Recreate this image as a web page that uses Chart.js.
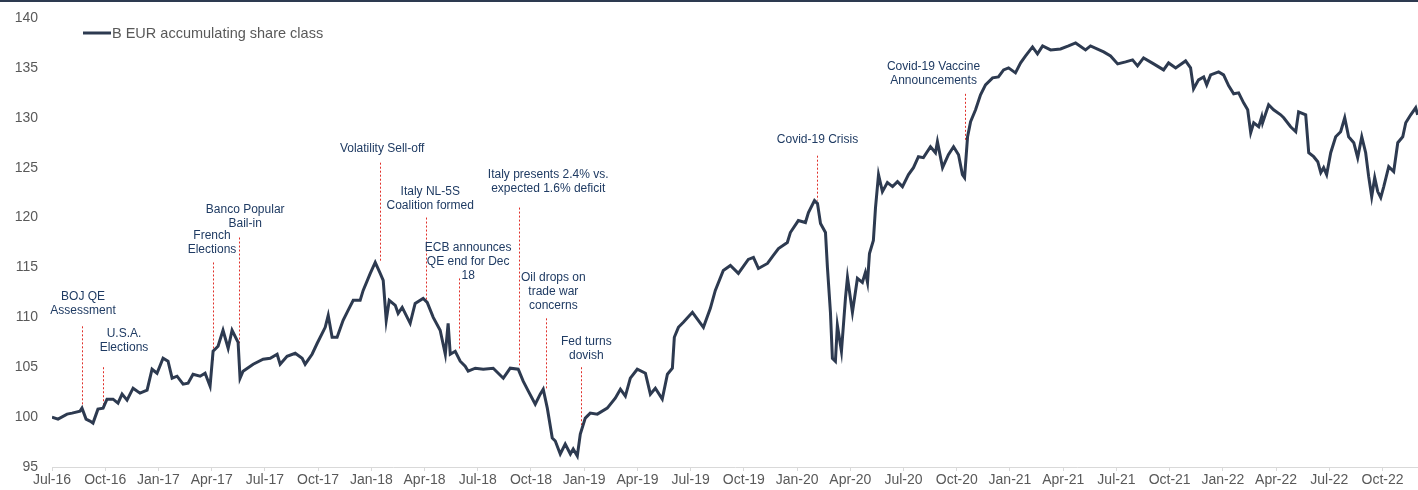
<!DOCTYPE html>
<html>
<head>
<meta charset="utf-8">
<script src="https://cdn.jsdelivr.net/npm/chart.js@4.4.1/dist/chart.umd.min.js"></script>
<style>
  html, body { margin: 0; padding: 0; background: #fff; }
  #caixa { width: 1418px; height: 490px; position: relative; }
</style>
</head>
<body>
<div id="caixa"><canvas id="grafico"></canvas></div>
<script>
// months since Jul-16 (x) and fund value (y)
const meses = [0,0.34,0.85,1.13,1.58,1.69,1.92,2.14,2.31,2.59,2.88,3.10,3.44,3.72,3.95,4.23,4.57,4.96,5.36,5.64,
  5.92,6.26,6.54,6.77,7.05,7.39,7.67,7.95,8.35,8.63,8.91,9.08,9.36,9.64,9.93,10.15,10.49,10.60,10.77,11.34,
  11.90,12.30,12.69,12.86,13.25,13.71,14.10,14.27,14.66,14.95,15.40,15.57,15.79,16.07,16.41,16.69,16.98,17.37,17.54,17.94,
  18.22,18.50,18.67,18.84,19.01,19.35,19.51,19.74,20.19,20.47,20.92,21.15,21.49,21.88,22.17,22.33,22.45,22.73,23.01,23.29,
  23.46,23.86,24.31,24.87,25.44,25.83,26.28,26.56,26.85,27.24,27.52,27.69,27.92,28.20,28.37,28.65,28.93,29.22,29.38,29.61,
  29.78,30.06,30.34,30.74,31.30,31.75,32.04,32.32,32.60,32.99,33.45,33.73,34.01,34.40,34.69,34.97,35.08,35.31,35.59,36.10,
  36.72,37.11,37.39,37.84,38.24,38.69,39.25,39.54,39.82,40.33,40.66,40.95,41.45,41.62,42.07,42.47,42.64,42.98,43.15,43.32,
  43.60,43.71,43.88,43.99,44.16,44.27,44.50,44.73,44.84,45.12,45.40,45.68,45.85,45.97,46.08,46.30,46.42,46.59,46.81,47.09,
  47.38,47.66,47.94,48.28,48.56,48.84,49.12,49.52,49.80,49.91,50.20,50.53,50.82,51.10,51.32,51.44,51.61,51.78,52.06,52.34,
  52.62,53.02,53.35,53.64,53.92,54.31,54.60,54.88,55.27,55.55,55.84,56.29,56.85,57.30,57.70,58.26,58.54,59.28,59.67,60.07,
  60.52,60.91,61.19,61.53,62.10,62.66,62.94,63.34,63.90,64.18,64.35,64.63,64.92,65.09,65.31,65.76,66.04,66.33,66.61,66.89,
  67.17,67.40,67.57,67.74,68.02,68.19,68.24,68.58,68.86,69.26,69.43,69.82,70.11,70.27,70.67,70.84,71.12,71.35,71.52,71.68,
  71.85,72.08,72.36,72.64,72.87,73.09,73.38,73.60,73.83,74.05,74.22,74.39,74.56,74.73,74.90,75.07,75.35,75.63,75.86,76.14,
  76.31,76.59,76.87,76.98];

const valores = [100.0,99.8,100.3,100.4,100.6,100.9,99.8,99.6,99.4,100.8,100.9,101.8,101.8,101.4,102.3,101.7,102.9,102.4,102.7,104.8,
  104.4,105.9,105.6,103.9,104.1,103.3,103.4,104.3,104.1,104.4,103.1,106.6,107.1,108.7,106.9,108.7,107.5,103.9,104.6,105.3,
  105.8,105.9,106.3,105.3,106.1,106.4,105.9,105.3,106.3,107.4,109.0,110.2,108.0,108.0,109.7,110.7,111.7,111.7,112.7,114.4,
  115.5,114.4,113.7,109.7,111.7,111.2,110.4,111.0,109.4,111.4,111.9,111.5,110.0,108.7,106.3,109.4,106.3,106.6,105.6,105.1,
  104.6,104.9,104.8,104.9,103.9,104.9,104.8,103.6,102.6,101.3,102.3,102.8,100.9,97.9,97.6,96.3,97.3,96.3,96.8,96.1,
  98.3,99.9,100.4,100.3,100.9,101.9,102.8,102.1,103.9,104.8,104.4,102.3,102.9,101.8,104.3,104.9,108.0,109.0,109.5,110.5,
  109.0,110.9,112.7,114.7,115.2,114.4,115.8,116.0,114.9,115.4,116.2,116.9,117.5,118.5,119.7,119.5,120.5,121.7,121.4,119.4,
  118.5,115.0,110.5,105.9,105.6,109.2,106.6,112.0,114.0,110.5,113.9,113.5,114.5,113.5,116.4,117.7,121.0,124.3,122.6,123.5,
  123.1,123.6,123.1,124.3,125.0,126.1,126.0,127.1,126.5,127.6,125.0,126.3,127.1,126.3,124.3,124.0,128.1,129.6,130.8,132.3,
  133.3,134.0,134.1,134.8,135.0,134.5,135.5,136.2,137.1,136.4,137.2,136.8,136.9,137.2,137.5,136.8,137.2,136.6,136.2,135.4,
  135.6,135.8,135.2,136.0,135.4,134.8,135.5,135.0,135.7,135.0,132.9,133.8,134.1,133.3,134.3,134.6,134.3,133.2,132.4,132.5,
  131.5,130.8,128.5,129.5,129.1,130.1,129.5,131.3,130.8,130.3,130.0,129.1,128.6,130.6,130.3,126.5,126.1,125.6,124.5,125.0,
  124.3,126.5,128.1,128.6,130.0,128.1,127.5,126.0,128.1,126.5,124.1,122.1,124.0,122.6,122.0,123.1,125.1,124.6,127.5,128.1,
  129.5,130.3,131.0,130.3];

const rotulosX = ['Jul-16','Oct-16','Jan-17','Apr-17','Jul-17','Oct-17','Jan-18','Apr-18','Jul-18','Oct-18',
  'Jan-19','Apr-19','Jul-19','Oct-19','Jan-20','Apr-20','Jul-20','Oct-20','Jan-21','Apr-21',
  'Jul-21','Oct-21','Jan-22','Apr-22','Jul-22','Oct-22'];

const nomeSerie = 'B EUR accumulating share class';

// event notes: text anchor (month, value) and the dotted marker (month, from value, to value)
const eventos = [
  { texto: ['BOJ QE', 'Assessment'], x: 1.75, y: 112.1, linhaX: 1.69, de: 109.1, ate: 101.0 },
  { texto: ['U.S.A.', 'Elections'], x: 4.06, y: 108.4, linhaX: 2.88, de: 105.0, ate: 101.1 },
  { texto: ['French', 'Elections'], x: 9.02, y: 118.2, linhaX: 9.08, de: 115.5, ate: 105.7 },
  { texto: ['Banco Popular', 'Bail-in'], x: 10.89, y: 120.8, linhaX: 10.55, de: 118.0, ate: 107.4 },
  { texto: ['Volatility Sell-off'], x: 18.61, y: 126.9, linhaX: 18.50, de: 125.5, ate: 115.5 },
  { texto: ['Italy NL-5S', 'Coalition formed'], x: 21.32, y: 122.6, linhaX: 21.09, de: 120.0, ate: 111.7 },
  { texto: ['ECB announces', 'QE end for Dec', '18'], x: 23.46, y: 117.0, linhaX: 22.95, de: 113.9, ate: 106.7 },
  { texto: ['Italy presents 2.4% vs.', 'expected 1.6% deficit'], x: 27.97, y: 124.3, linhaX: 26.34, de: 121.0, ate: 105.2 },
  { texto: ['Oil drops on', 'trade war', 'concerns'], x: 28.26, y: 114.0, linhaX: 27.86, de: 109.9, ate: 102.7 },
  { texto: ['Fed turns', 'dovish'], x: 30.12, y: 107.6, linhaX: 29.84, de: 105.0, ate: 99.2 },
  { texto: ['Covid-19 Crisis'], x: 43.15, y: 127.8, linhaX: 43.15, de: 126.2, ate: 121.7 },
  { texto: ['Covid-19 Vaccine', 'Announcements'], x: 49.69, y: 135.1, linhaX: 51.49, de: 132.4, ate: 127.7 }
];

const corLinha = '#2D3A50';
const corTexto = '#595959';
const fonte = '"Liberation Sans", Arial, sans-serif';

const anotacoes = {
  id: 'anotacoes',
  beforeDatasetsDraw(chart) {
    const { ctx, scales: { x, y } } = chart;
    ctx.save();
    ctx.strokeStyle = '#E0302A';
    ctx.lineWidth = 1;
    ctx.setLineDash([2, 2]);
    eventos.forEach(ev => {
      const px = Math.round(x.getPixelForValue(ev.linhaX)) + 0.5;
      ctx.beginPath();
      ctx.moveTo(px, y.getPixelForValue(ev.de));
      ctx.lineTo(px, y.getPixelForValue(ev.ate));
      ctx.stroke();
    });
    ctx.restore();
  },
  afterDraw(chart) {
    const { ctx, scales: { x, y } } = chart;
    ctx.save();
    // rule across the top
    ctx.fillStyle = '#2D3A50';
    ctx.fillRect(0, 0, chart.width, 2);

    ctx.fillStyle = '#1F3B63';
    ctx.font = '12px ' + fonte;
    ctx.textAlign = 'center';
    ctx.textBaseline = 'middle';
    eventos.forEach(ev => {
      const cx = x.getPixelForValue(ev.x);
      const cy = y.getPixelForValue(ev.y);
      ev.texto.forEach((t, i) => ctx.fillText(t, cx, cy + i * 14));
    });

    // legend
    ctx.strokeStyle = corLinha;
    ctx.lineWidth = 3;
    ctx.beginPath();
    ctx.moveTo(83, 33);
    ctx.lineTo(111, 33);
    ctx.stroke();
    ctx.fillStyle = corTexto;
    ctx.font = '14.5px ' + fonte;
    ctx.textAlign = 'left';
    ctx.fillText(nomeSerie, 112, 34);
    ctx.restore();
  }
};

const ctx = document.getElementById('grafico').getContext('2d');
const grafico = new Chart(ctx, {
  type: 'line',
  data: {
    datasets: [{
      label: nomeSerie,
      data: meses.map((m, i) => ({ x: m, y: valores[i] })),
      borderColor: corLinha,
      borderWidth: 3,
      pointRadius: 0,
      tension: 0,
      fill: false
    }]
  },
  options: {
    responsive: true,
    maintainAspectRatio: false,
    animation: false,
    layout: { padding: { top: 18, left: 0, right: 0, bottom: 0 } },
    plugins: {
      legend: { display: false },
      tooltip: { enabled: false }
    },
    scales: {
      x: {
        type: 'linear',
        min: 0,
        max: 77,
        afterBuildTicks: scale => { scale.ticks = rotulosX.map((r, i) => ({ value: i * 3 })); },
        afterFit: scale => { scale.height = 23; },
        grid: { display: true, drawOnChartArea: false, drawTicks: true, tickLength: 4, color: '#D9D9D9' },
        border: { display: true, color: '#D9D9D9' },
        ticks: {
          autoSkip: false,
          maxRotation: 0,
          padding: 1,
          color: corTexto,
          font: { size: 14, family: fonte },
          callback: v => rotulosX[Math.round(v / 3)]
        }
      },
      y: {
        min: 95,
        max: 140,
        afterFit: scale => { scale.width = 52; },
        grid: { display: false },
        border: { display: false },
        ticks: {
          stepSize: 5,
          padding: 6,
          color: corTexto,
          font: { size: 14, family: fonte }
        }
      }
    }
  },
  plugins: [anotacoes]
});
</script>
</body>
</html>
